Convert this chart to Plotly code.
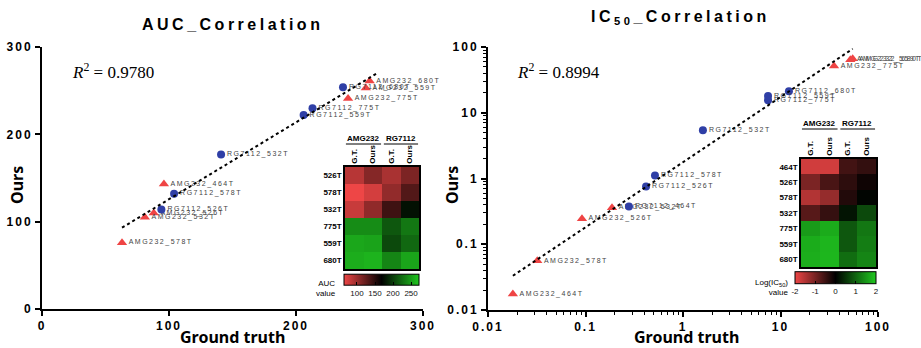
import numpy as np
import plotly.graph_objects as go

# ---------------- data ----------------
# AUC panel (scatter)
auc_amg_labels = ["AMG232_680T", "AMG232_559T", "AMG232_775T", "AMG232_464T",
                  "AMG232_526T", "AMG232_532T", "AMG232_578T"]
auc_amg_gt = [258, 255, 241, 96, 88, 81, 63]
auc_amg_ours = [261, 253, 241, 143, 110, 105, 76]
auc_rg_labels = ["RG7112_680T", "RG7112_775T", "RG7112_559T", "RG7112_532T",
                 "RG7112_578T", "RG7112_526T"]
auc_rg_gt = [237, 213, 206, 141, 104, 94]
auc_rg_ours = [254, 230, 222, 177, 132, 114]

# AUC heatmap
hm_auc_rows = ["526T", "578T", "532T", "775T", "559T", "680T"]
hm_auc_amg_gt = [88, 63, 81, 241, 255, 258]
hm_auc_amg_ours = [110, 76, 105, 241, 253, 261]
hm_auc_rg_gt = [94, 104, 141, 213, 206, 237]
hm_auc_rg_ours = [114, 132, 177, 230, 222, 254]
auc_cbar_range = [64, 272]
auc_cbar_ticks = [100, 150, 200, 250]

# IC50 panel
ic_rows = ["464T", "526T", "578T", "532T", "775T", "559T", "680T"]
ic_amg_gt = [0.018, 0.092, 0.032, 0.187, 35.4, 52, 55]
ic_amg_ours = [0.0175, 0.245, 0.056, 0.36, 51.3, 64, 66]
ic_rg_gt = [0.279, 0.418, 0.516, 1.60, 7.45, 7.45, 12.2]
ic_rg_ours = [0.374, 0.755, 1.11, 5.41, 15.5, 17.9, 21.3]
ic_cbar_range = [-2, 2]
ic_cbar_ticks = [-2, -1, 0, 1, 2]
ic_cbar_text = ["-2", "-1", "0", "1", "2"]

r2_auc = "0.9780"
r2_ic = "0.8994"

hm_cols = ["G.T.", "Ours", "G.T.", "Ours"]
auc_ticks = [0, 100, 200, 300]
ic_ticks = [0.01, 0.1, 1, 10, 100]
ic_tick_text = ["0.01", "0.1", "1", "10", "100"]

# ---------------- style ----------------
RED = "#ef4444"
BLUE = "#2f3fa6"
CSCALE = [[0, "#ee4646"], [0.5, "#000000"], [1, "#20c820"]]
W, H = 921, 348


def sp(t, ls=1.5):
    return f"<span style='letter-spacing:{ls}px'>{t}</span>"


def px_x(p):
    return p / W


def px_y(p):
    return 1 - p / H


fig = go.Figure()

lab_font = dict(family="Liberation Sans, Arial", size=7, color="#444")

# ---- AUC scatter ----
fig.add_trace(go.Scatter(
    x=auc_amg_gt, y=auc_amg_ours, mode="markers+text",
    text=[sp(t) for t in auc_amg_labels], textposition="middle right",
    textfont=lab_font, cliponaxis=False,
    marker=dict(symbol="triangle-up", size=9, color=RED),
    xaxis="x", yaxis="y", hoverinfo="skip"))
fig.add_trace(go.Scatter(
    x=auc_rg_gt, y=auc_rg_ours, mode="markers+text",
    text=[sp(t) for t in auc_rg_labels], textposition="middle right",
    textfont=lab_font, cliponaxis=False,
    marker=dict(symbol="circle", size=8, color=BLUE),
    xaxis="x", yaxis="y", hoverinfo="skip"))
ax = np.array(auc_amg_gt + auc_rg_gt, float)
ay = np.array(auc_amg_ours + auc_rg_ours, float)
b, a = np.polyfit(ax, ay, 1)
lx = np.array([ax.min(), ax.max() + 5])
fig.add_trace(go.Scatter(x=lx, y=a + b * lx, mode="lines",
                         line=dict(color="black", dash="dot", width=2),
                         xaxis="x", yaxis="y", hoverinfo="skip"))

# ---- IC50 scatter ----
fig.add_trace(go.Scatter(
    x=ic_amg_gt, y=ic_amg_ours, mode="markers+text",
    text=[sp("AMG232_" + r) for r in ic_rows], textposition="middle right",
    textfont=lab_font, cliponaxis=False,
    marker=dict(symbol="triangle-up", size=9, color=RED),
    xaxis="x2", yaxis="y2", hoverinfo="skip"))
fig.add_trace(go.Scatter(
    x=ic_rg_gt, y=ic_rg_ours, mode="markers+text",
    text=[sp("RG7112_" + r) for r in ic_rows], textposition="middle right",
    textfont=lab_font, cliponaxis=False,
    marker=dict(symbol="circle", size=8, color=BLUE),
    xaxis="x2", yaxis="y2", hoverinfo="skip"))
lgx = np.log10(np.array(ic_amg_gt + ic_rg_gt))
lgy = np.log10(np.array(ic_amg_ours + ic_rg_ours))
b2, a2 = np.polyfit(lgx, lgy, 1)
lx2 = np.array([lgx.min(), lgx.max()])
fig.add_trace(go.Scatter(x=10 ** lx2, y=10 ** (a2 + b2 * lx2), mode="lines",
                         line=dict(color="black", dash="dot", width=2),
                         xaxis="x2", yaxis="y2", hoverinfo="skip"))

# ---- heatmaps ----
cb_font = dict(family="Liberation Sans, Arial", size=8, color="#111")
auc_z = np.array([hm_auc_amg_gt, hm_auc_amg_ours, hm_auc_rg_gt, hm_auc_rg_ours]).T
fig.add_trace(go.Heatmap(
    z=auc_z, x=[0, 1, 2, 3], y=hm_auc_rows, colorscale=CSCALE,
    zmin=auc_cbar_range[0], zmax=auc_cbar_range[1], xaxis="x3", yaxis="y3",
    hoverinfo="skip",
    colorbar=dict(orientation="h", x=px_x(381.5), xanchor="center",
                  y=px_y(287.5), yanchor="middle", lenmode="pixels", len=75,
                  thickness=11, xpad=0, ypad=0, outlinecolor="black",
                  outlinewidth=1, tickvals=auc_cbar_ticks, ticks="inside",
                  ticklen=3, tickcolor="black", tickfont=cb_font)))

ic_z = np.log10(np.array([ic_amg_gt, ic_amg_ours, ic_rg_gt, ic_rg_ours])).T
fig.add_trace(go.Heatmap(
    z=ic_z, x=[0, 1, 2, 3], y=ic_rows, colorscale=CSCALE,
    zmin=ic_cbar_range[0], zmax=ic_cbar_range[1], xaxis="x4", yaxis="y4",
    hoverinfo="skip",
    colorbar=dict(orientation="h", x=px_x(835.5), xanchor="center",
                  y=px_y(286), yanchor="middle", lenmode="pixels", len=81,
                  thickness=12, xpad=0, ypad=0, outlinecolor="black",
                  outlinewidth=1, tickvals=ic_cbar_ticks, ticktext=ic_cbar_text,
                  ticks="inside", ticklen=3, tickcolor="black", tickfont=cb_font)))

# ---------------- axes ----------------
tick_font = dict(family="Liberation Sans, Arial", size=12, color="black", weight="bold")
common = dict(showgrid=False, zeroline=False, showline=True, linecolor="black",
              linewidth=2, ticks="outside", ticklen=5, tickwidth=2,
              tickcolor="black", tickfont=tick_font)

lx0, lx1 = px_x(42), px_x(423)
rx0, rx1 = px_x(488), px_x(878)
yb, yt = px_y(309), px_y(47)

hm_font = dict(family="Liberation Sans, Arial", size=8, color="black", weight="bold")
hm_common = dict(showgrid=False, zeroline=False, showline=True, mirror=True,
                 linecolor="black", linewidth=1.5, ticks="", tickfont=hm_font)

fig.update_layout(
    width=W, height=H, margin=dict(l=0, r=0, t=0, b=0, autoexpand=False),
    paper_bgcolor="white", plot_bgcolor="white", showlegend=False,
    xaxis=dict(domain=[lx0, lx1], range=[0, 300], anchor="y",
               tickvals=auc_ticks, ticktext=[sp(str(t), 2) for t in auc_ticks], **common),
    yaxis=dict(domain=[yb, yt], range=[0, 300], anchor="x",
               tickvals=auc_ticks, ticktext=[sp(str(t), 2) for t in auc_ticks], **common),
    xaxis2=dict(domain=[rx0, rx1], type="log", range=[-2, 2], anchor="y2",
                tickvals=ic_ticks, ticktext=[sp(t, 2) for t in ic_tick_text],
                minor=dict(ticks="outside", ticklen=3, tickwidth=1.2,
                           tickcolor="black", dtick="D1", showgrid=False), **common),
    yaxis2=dict(domain=[px_y(310), yt], type="log", range=[-2, 2], anchor="x2",
                tickvals=ic_ticks, ticktext=[sp(t, 2) for t in ic_tick_text],
                minor=dict(ticks="outside", ticklen=3, tickwidth=1.2,
                           tickcolor="black", dtick="D1", showgrid=False), **common),
    xaxis3=dict(domain=[px_x(345), px_x(419)], range=[-0.5, 3.5], anchor="y3",
                side="top", tickvals=[0, 1, 2, 3], ticktext=hm_cols,
                tickangle=-90, **hm_common),
    yaxis3=dict(domain=[px_y(269), px_y(167)], anchor="x3", autorange="reversed",
                type="category", **hm_common),
    xaxis4=dict(domain=[px_x(801), px_x(876)], range=[-0.5, 3.5], anchor="y4",
                side="top", tickvals=[0, 1, 2, 3], ticktext=hm_cols,
                tickangle=-90, **hm_common),
    yaxis4=dict(domain=[px_y(267), px_y(159)], anchor="x4", autorange="reversed",
                type="category", **hm_common),
)

# ---------------- annotations ----------------
title_font = dict(family="Liberation Sans, Arial", size=16, color="black", weight="bold")
axt_font = dict(family="Noto Sans", size=16, color="black", weight="bold")
r2_font = dict(family="Liberation Serif", size=17, color="black")
small = dict(family="Liberation Sans, Arial", size=8, color="black")
grp = dict(family="Liberation Sans, Arial", size=8, color="black", weight="bold")

annotations = []
for x, y, t in [(232, 24, sp("AUC_Correlation", 3.5)),
                (680, 18, sp("IC<sub>50</sub>_Correlation", 3.5))]:
    annotations.append(dict(xref="paper", yref="paper", showarrow=False, text=t,
                            x=px_x(x), y=px_y(y), xanchor="center", yanchor="middle",
                            font=title_font))
for x, y, t, ang in [(17, 185, "Ours", -90), (452, 185, "Ours", -90),
                     (232, 337, "Ground truth", 0), (686, 337, "Ground truth", 0)]:
    annotations.append(dict(xref="paper", yref="paper", showarrow=False, text=t,
                            x=px_x(x), y=px_y(y), xanchor="center", yanchor="middle",
                            textangle=ang, font=axt_font))
for x, t in [(70, r2_auc), (515, r2_ic)]:
    annotations.append(dict(xref="paper", yref="paper", showarrow=False,
                            text=f"<i>R</i><sup>2</sup> = {t}", x=px_x(x), y=px_y(71),
                            xanchor="left", yanchor="middle", font=r2_font))
# colorbar titles
annotations.append(dict(xref="paper", yref="paper", showarrow=False,
                        text="AUC<br>value", x=px_x(338), y=px_y(288),
                        xanchor="right", yanchor="middle", align="right", font=small))
annotations.append(dict(xref="paper", yref="paper", showarrow=False,
                        text="Log(IC<sub>50</sub>)<br>value", x=px_x(790), y=px_y(287),
                        xanchor="right", yanchor="middle", align="right", font=small))
# heatmap group labels
for xr, yy in [("x3", 138), ("x4", 123)]:
    for xv, t in [(0.5, "AMG232"), (2.5, "RG7112")]:
        annotations.append(dict(xref=xr, yref="paper", showarrow=False, text=t,
                                x=xv, y=px_y(yy), xanchor="center", yanchor="middle",
                                font=grp))
fig.update_layout(annotations=annotations)

shapes = []
for xr, yy in [("x3", 144), ("x4", 129)]:
    for x0, x1 in [(-0.45, 1.45), (1.6, 3.45)]:
        shapes.append(dict(type="line", xref=xr, yref="paper", x0=x0, x1=x1,
                           y0=px_y(yy), y1=px_y(yy), line=dict(color="black", width=1)))
fig.update_layout(shapes=shapes)

fig.write_html("out.html", config={"displayModeBar": False},
               post_script="document.body.style.margin='0px';document.body.style.overflow='hidden';")
